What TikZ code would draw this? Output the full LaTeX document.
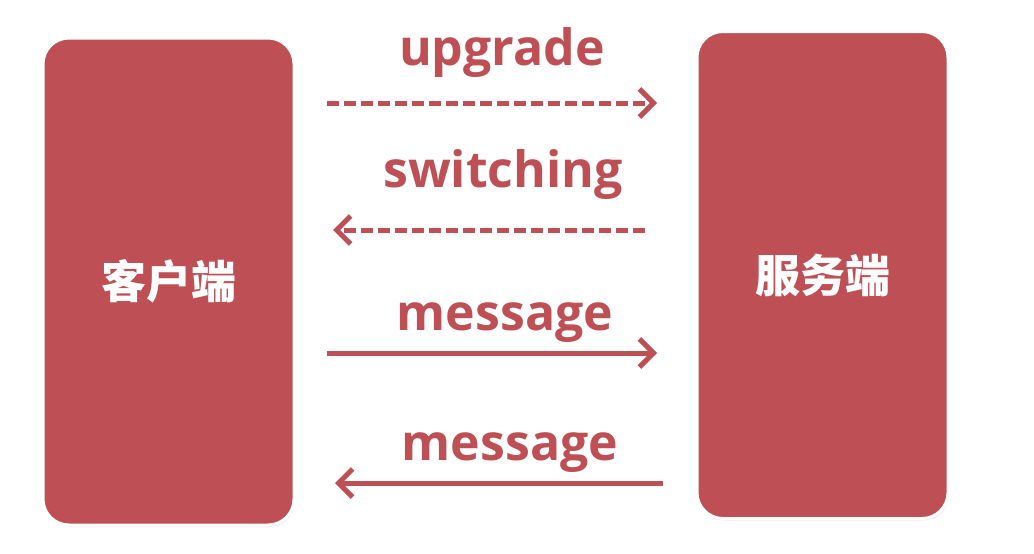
\documentclass[tikz,border=0pt]{standalone}
\usepackage{fontspec}
\setmainfont{Open Sans}
\newfontfamily\cjk{Noto Sans CJK SC}
\usetikzlibrary{arrows.meta,shadows}
\definecolor{boxred}{RGB}{190,80,85}

\begin{document}
\begin{tikzpicture}[x=1pt,y=-1pt]
\tikzset{duan/.style={draw=white, line width=3pt, fill=boxred, rounded corners=26pt,
  minimum width=251pt, minimum height=487pt, text=white,
  drop shadow={opacity=0.18, shadow xshift=1pt, shadow yshift=-2pt},
  font=\cjk\bfseries\fontsize{45}{54}\selectfont}}
\tikzset{fleche/.style={draw=boxred, line width=5pt, -{Straight Barb[length=14pt,width=28pt]}}}
\tikzset{pointille/.style={fleche, dash pattern=on 12pt off 5pt}}
\tikzset{etiquette/.style={anchor=base, text=boxred, font=\bfseries\fontsize{50}{60}\selectfont}}
\useasboundingbox (0,0) rectangle (1034,554);
\node[duan] (client) at (168.5,281.5) {客户端};
\node[duan] (serveur) at (822.5,275) {服务端};
\node[etiquette] (L1) at (502,65) {upgrade};
\node[etiquette] (L2) at (503,187) {switching};
\node[etiquette] (L3) at (505,330) {message};
\node[etiquette] (L4) at (510,460) {message};
\coordinate (A1) at (327,103);
\coordinate (B1) at (657,103);
\coordinate (A2) at (645,230);
\coordinate (B2) at (333,230);
\coordinate (A3) at (327,353);
\coordinate (B3) at (657,353);
\coordinate (A4) at (663,483);
\coordinate (B4) at (335,483);
\draw[pointille] (A1) -- (B1);
\draw[pointille] (A2) -- (B2);
\draw[fleche] (A3) -- (B3);
\draw[fleche] (A4) -- (B4);
\end{tikzpicture}
\end{document}
